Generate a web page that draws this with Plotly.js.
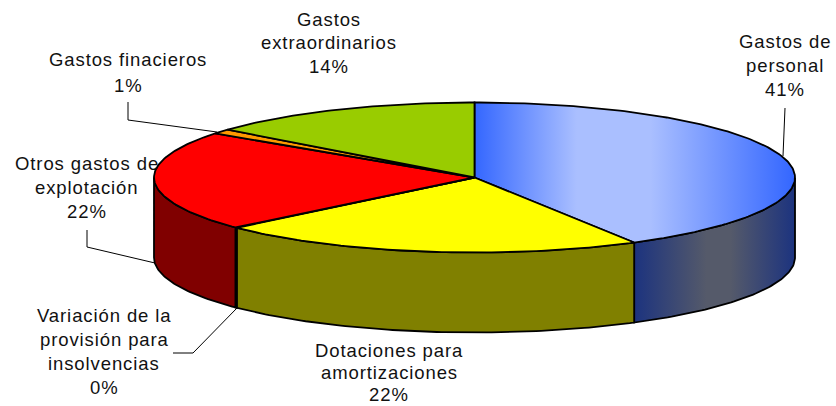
<!DOCTYPE html>
<html><head><meta charset="utf-8">
<script src="https://cdn.plot.ly/plotly-3.0.1.min.js"></script>
<style>html,body{margin:0;padding:0;background:#fff}#c{width:836px;height:406px}.annotation-text{letter-spacing:0.9px}</style>
</head><body><div id="c"></div>
<script>
// Data
const categories = ["Gastos de personal","Dotaciones para amortizaciones","Variación de la provisión para insolvencias","Otros gastos de explotación","Gastos finacieros","Gastos extraordinarios"];
const shares = [41.7,21.6,0.1,21.6,1.0,14.0];
const percentLabels = ["41%","22%","0%","22%","1%","14%"];
const labelLines = [["Gastos de","personal"],["Dotaciones para","amortizaciones"],["Variación de la","provisión para","insolvencias"],["Otros gastos de","explotación"],["Gastos finacieros"],["Gastos","extraordinarios"]];
const topColors = ["#3366ff","#ffff00","#ff9900","#ff0000","#ff9900","#99cc00"];
const sideColors = ["#1c337f","#808000","#804c00","#800000","#804c00","#4c6600"];

// Layout
const P = {cx:474.5, cy:177.5, rx:320.5, ry:75, depth:80};
const labelPos = [[785,41,24],[389,350,22],[104,315,24.3],[87,163,24],[128,59,26],[328.5,19,23.5]];
const leaders = [[[785,108],[783,156]],[[173,353],[193,353],[237,308]],[[87,230],[87,247],[155,263]],[[128,102],[128,120],[217,132]]];

const pt=(f,d=0)=>{const t=2*Math.PI*f;return [P.cx+P.rx*Math.sin(t),P.cy-P.ry*Math.cos(t)+d];};
const arc=(a,b,d=0)=>{const n=Math.max(2,Math.ceil((b-a)*400));const r=[];for(let i=0;i<=n;i++)r.push(pt(a+(b-a)*i/n,d));return r;};
const total=shares.reduce((s,v)=>s+v,0);
let acc=0; const ranges=shares.map(v=>{const a=acc/total;acc+=v;return [a,acc/total];});
const traces=[];
const poly=(pts,color,extra={},w=1.8)=>traces.push(Object.assign({type:'scatter',mode:'lines',x:pts.map(p=>p[0]),y:pts.map(p=>p[1]),fill:'toself',fillcolor:color,line:{color:'#000',width:w,shape:'linear'},hoverinfo:'skip',showlegend:false},extra));

// side walls for the arc portion that faces the viewer
ranges.forEach(([a,b],i)=>{
  const lo=Math.max(a,0.25), hi=Math.min(b,0.75);
  if(hi<=lo) return;
  const pts=arc(lo,hi).concat(arc(lo,hi,P.depth).reverse()); pts.push(pts[0]);
  const extra = i===0 ? {fillgradient:{type:'horizontal',start:634,stop:795,colorscale:[[0,'#1c337f'],[0.45,'#555a6a'],[0.6,'#555a6a'],[1,'#1c337f']]}} : {};
  poly(pts,sideColors[i],extra);
});
// top faces
ranges.forEach(([a,b],i)=>{
  const pts=[[P.cx,P.cy]].concat(arc(a,b)); pts.push([P.cx,P.cy]);
  const extra = i===0 ? {fillgradient:{type:'horizontal',start:474,stop:795,colorscale:[[0,'#3366ff'],[0.32,'#aabfff'],[0.55,'#aabfff'],[1,'#3366ff']]}} : {};
  poly(pts,topColors[i],extra);
});
leaders.forEach(l=>traces.push({type:'scatter',mode:'lines',x:l.map(p=>p[0]),y:l.map(p=>p[1]),line:{color:'#000',width:1},hoverinfo:'skip',showlegend:false}));

const annotations=[];
labelLines.forEach((lines,i)=>{
  const [x,y,lh]=labelPos[i];
  lines.concat([percentLabels[i]]).forEach((t,j)=>annotations.push({x,y:y+j*lh,xref:'x',yref:'y',text:t,showarrow:false,xanchor:'center',yanchor:'middle',font:{family:'"Liberation Sans",Arial,sans-serif',size:18.5,color:'#111'}}));
});
Plotly.newPlot('c',traces,{width:836,height:406,margin:{l:0,r:0,t:0,b:0},paper_bgcolor:'#fff',plot_bgcolor:'#fff',showlegend:false,
 xaxis:{range:[0,836],visible:false,fixedrange:true},yaxis:{range:[406,0],visible:false,fixedrange:true},annotations},{displayModeBar:false,staticPlot:true});
</script></body></html>
